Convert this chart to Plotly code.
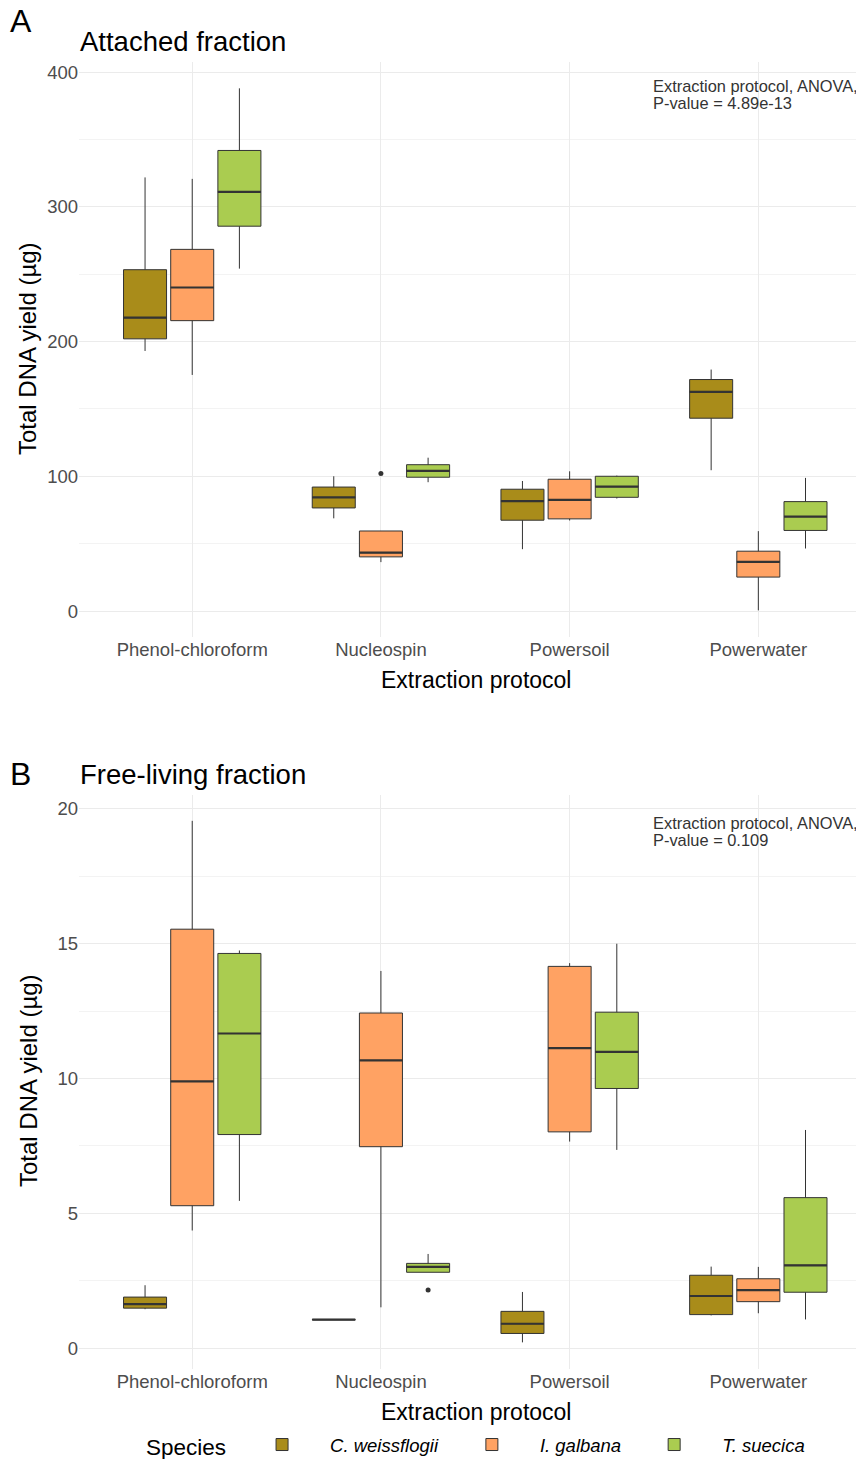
import plotly.graph_objects as go

categories = ["Phenol-chloroform", "Nucleospin", "Powersoil", "Powerwater"]
species = ["C. weissflogii", "I. galbana", "T. suecica"]
colors = ["#A98C1A", "#FFA263", "#AACC50"]

# Panel A: attached fraction (µg)
a_lower = [[193.0, 68.8, 45.9, 104.5], [175.2, 36.3, 67.2, 0.5], [254.1, 95.6, 83.5, 46.4]]
a_q1 = [[202.0, 76.5, 67.4, 143.1], [215.5, 40.2, 68.4, 25.2], [285.6, 99.3, 84.4, 59.8]]
a_med = [[217.7, 84.3, 81.5, 162.6], [240.1, 43.3, 82.5, 36.5], [311.1, 104.0, 92.3, 70.1]]
a_q3 = [[253.3, 92.0, 90.4, 171.8], [268.4, 59.4, 97.8, 44.4], [341.8, 108.6, 100.0, 81.2]]
a_upper = [[321.8, 100.0, 96.5, 179.2], [320.7, 59.4, 103.7, 59.3], [387.9, 113.8, 100.5, 98.8]]
a_out_species = [1]
a_out_cat = [1]
a_out_val = [102.0]

# Panel B: free-living fraction (µg)
b_lower = [[1.44, 1.05, 0.21, 1.21], [4.36, 1.51, 7.66, 1.29], [5.46, 2.81, 7.35, 1.06]]
b_q1 = [[1.48, 1.05, 0.54, 1.24], [5.28, 7.47, 8.02, 1.72], [7.92, 2.81, 9.63, 2.07]]
b_med = [[1.63, 1.05, 0.90, 1.93], [9.89, 10.67, 11.13, 2.15], [11.67, 3.01, 10.99, 3.07]]
b_q3 = [[1.89, 1.06, 1.36, 2.70], [15.54, 12.43, 14.16, 2.57], [14.64, 3.14, 12.46, 5.58]]
b_upper = [[2.33, 1.06, 2.08, 3.02], [19.56, 13.99, 14.28, 3.01], [14.75, 3.49, 15.0, 8.09]]
b_out_species = [2]
b_out_cat = [1]
b_out_val = [2.15]

offsets = [-0.25, 0.0, 0.25]
box_w = 0.228
line_col = "#333333"
FONT = "Liberation Sans"

W, H = 864.0, 1459.0
OFF = 8.0  # page body margin


def px(x):
    return (x - OFF) / W


def py(y):
    return 1 - (y - OFF) / H


fig = go.Figure()


def add_panel(lower, q1, med, q3, upper, out_sp, out_cat, out_val, xa, ya, showleg):
    for s in range(3):
        xs = [i + offsets[s] for i in range(len(categories))]
        fig.add_trace(go.Box(
            x=xs, q1=q1[s], median=med[s], q3=q3[s],
            lowerfence=lower[s], upperfence=upper[s],
            width=box_w, whiskerwidth=0, boxpoints=False,
            fillcolor=colors[s], line=dict(color=line_col, width=1),
            name="<i>" + species[s] + "</i>", legendgroup=species[s],
            showlegend=showleg, xaxis=xa, yaxis=ya, hoverinfo="skip",
        ))
        mx, my = [], []
        for i, x in enumerate(xs):
            mx += [x - box_w / 2, x + box_w / 2, None]
            my += [med[s][i], med[s][i], None]
        fig.add_trace(go.Scatter(x=mx, y=my, mode="lines",
                                 line=dict(color=line_col, width=2.2),
                                 showlegend=False, xaxis=xa, yaxis=ya, hoverinfo="skip"))
    fig.add_trace(go.Scatter(
        x=[c + offsets[s] for c, s in zip(out_cat, out_sp)], y=out_val,
        mode="markers", marker=dict(color=line_col, size=5),
        showlegend=False, xaxis=xa, yaxis=ya, hoverinfo="skip"))


add_panel(a_lower, a_q1, a_med, a_q3, a_upper, a_out_species, a_out_cat, a_out_val, "x", "y", True)
add_panel(b_lower, b_q1, b_med, b_q3, b_upper, b_out_species, b_out_cat, b_out_val, "x2", "y2", False)

grid = "#EBEBEB"
tickfont = dict(family=FONT, size=18.5, color="#4D4D4D")
xdom = [px(79), px(864)]

xcommon = dict(range=[-0.6, 3.56], tickvals=list(range(4)), ticktext=categories,
               showgrid=True, gridcolor=grid, gridwidth=1, zeroline=False,
               showline=False, ticks="", tickfont=tickfont, domain=xdom,
               fixedrange=True, automargin=False)
ycommon = dict(showgrid=True, gridcolor=grid, gridwidth=1, zeroline=False,
               ticks="", tickfont=tickfont, automargin=False, fixedrange=True)
fig.update_layout(
    xaxis=dict(**xcommon, anchor="y"),
    xaxis2=dict(**xcommon, anchor="y2"),
    yaxis=dict(**ycommon, range=[-18.9, 407.3], domain=[py(636.5), py(62.2)],
               tickvals=[0, 100, 200, 300, 400], anchor="x",
               minor=dict(tickvals=[50, 150, 250, 350], showgrid=True,
                          gridcolor="#F3F3F3", gridwidth=1)),
    yaxis2=dict(**ycommon, range=[-0.76, 20.53], domain=[py(1368.5), py(794.7)],
                tickvals=[0, 5, 10, 15, 20], anchor="x2",
                minor=dict(tickvals=[2.5, 7.5, 12.5, 17.5], showgrid=True,
                           gridcolor="#F3F3F3", gridwidth=1)),
    width=864, height=1459,
    margin=dict(l=0, r=0, t=0, b=0, autoexpand=False),
    plot_bgcolor="white", paper_bgcolor="white",
    font=dict(family=FONT, color="black"),
    showlegend=True,
    legend=dict(orientation="h", x=px(144), xanchor="left", y=py(1446),
                yanchor="middle",
                title=dict(text="Species", font=dict(size=22.5, family=FONT)),
                font=dict(size=18.5, family=FONT), entrywidth=0, itemwidth=86,
                bgcolor="rgba(0,0,0,0)"),
)


def ann(text, x, y, size, xanchor="left", yanchor="middle", angle=0, color="black"):
    fig.add_annotation(text=text, x=px(x), y=py(y), xref="paper", yref="paper",
                       showarrow=False, xanchor=xanchor, yanchor=yanchor,
                       textangle=angle, align="left",
                       font=dict(family=FONT, size=size, color=color))


ann("A", 8, 21, 32)
ann("Attached fraction", 78, 41, 27.5)
ann("B", 8, 774, 32)
ann("Free-living fraction", 78, 774, 27.5)
ann("Extraction protocol", 476, 680, 23, xanchor="center")
ann("Extraction protocol", 476, 1412, 23, xanchor="center")
ann("Total DNA yield (µg)", 28, 349, 24, xanchor="center", angle=-90)
ann("Total DNA yield (µg)", 28, 1081, 24, xanchor="center", angle=-90)
ann("Extraction protocol, ANOVA,", 651, 86, 16.4, color="#333333")
ann("P-value = 4.89e-13", 651, 103, 16.4, color="#333333")
ann("Extraction protocol, ANOVA,", 651, 823, 16.4, color="#333333")
ann("P-value = 0.109", 651, 840, 16.4, color="#333333")

fig.write_html("out.html")
